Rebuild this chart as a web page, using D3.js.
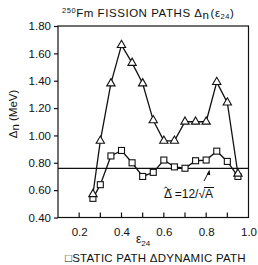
<!DOCTYPE html>
<html lang="en">
<head>
<meta charset="utf-8">
<style>
  body { margin:0; background:white; }
  svg { font-family: 'Liberation Sans', 'DejaVu Sans', sans-serif; }
  .axis text { font-size:11.5px; fill:#111; }
</style>
</head>
<body>
<div id="canvas"></div>
<script src="https://cdnjs.cloudflare.com/ajax/libs/d3/7.8.5/d3.min.js"></script>
<script>
// deformation values (epsilon_24) along the path
var eps = [0.265, 0.30, 0.35, 0.40, 0.45, 0.50, 0.55, 0.60, 0.65, 0.70, 0.75, 0.80, 0.85, 0.90, 0.95];
// pairing gap Delta_n (MeV)
var staticPath  = [0.54, 0.64, 0.85, 0.89, 0.80, 0.70, 0.73, 0.82, 0.77, 0.76, 0.815, 0.82, 0.885, 0.81, 0.70];
var dynamicPath = [0.57, 0.96, 1.38, 1.66, 1.53, 1.38, 1.11, 0.96, 0.96, 1.10, 1.10, 1.10, 1.39, 1.24, 0.72];
var yTicks = [0.40, 0.60, 0.80, 1.00, 1.20, 1.40, 1.60, 1.80];
var xLabels = [0.2, 0.4, 0.6, 0.8, 1.0];
var xMinor = [0.2, 0.3, 0.4, 0.5, 0.6, 0.7, 0.8, 0.9];
var deltaTilde = 12 / Math.sqrt(250);

var W = 258, H = 265;
var x = d3.scaleLinear().domain([0.1, 1.0]).range([58, 248.5]);
var y = d3.scaleLinear().domain([0.40, 1.80]).range([217.5, 26]);

var svg = d3.select("#canvas").append("svg")
    .attr("width", W).attr("height", H);

// frame
svg.append("rect")
    .attr("x", x(0.1)).attr("y", y(1.80))
    .attr("width", x(1.0) - x(0.1)).attr("height", y(0.40) - y(1.80))
    .attr("fill", "none").attr("stroke", "#111").attr("stroke-width", 1.2);

// y axis (outward ticks)
var yAxis = svg.append("g").attr("class", "axis")
    .attr("transform", "translate(" + x(0.1) + ",0)")
    .call(d3.axisLeft(y).tickValues(yTicks).tickFormat(d3.format(".2f")).tickSize(4).tickPadding(3));
yAxis.select(".domain").remove();
yAxis.selectAll("line").attr("stroke", "#111").attr("stroke-width", 1.2);

// x axis (inward ticks)
var xAxis = svg.append("g").attr("class", "axis")
    .attr("transform", "translate(0," + y(0.40) + ")")
    .call(d3.axisBottom(x).tickValues(xLabels).tickFormat(d3.format(".1f")).tickSize(0).tickPadding(10));
xAxis.select(".domain").remove();
svg.append("g").selectAll("line").data(xMinor).enter().append("line")
    .attr("x1", function(d) { return x(d); }).attr("x2", function(d) { return x(d); })
    .attr("y1", y(0.40)).attr("y2", y(0.40) - 5)
    .attr("stroke", "#111").attr("stroke-width", 1.2);

// reference line Delta~ = 12/sqrt(A)
svg.append("line")
    .attr("x1", x(0.1)).attr("x2", x(1.0))
    .attr("y1", y(deltaTilde)).attr("y2", y(deltaTilde))
    .attr("stroke", "#111").attr("stroke-width", 1.2);

// lines
var line = d3.line().x(function(d) { return x(d[0]); }).y(function(d) { return y(d[1]); });
var sData = eps.map(function(e, i) { return [e, staticPath[i]]; });
var dData = eps.map(function(e, i) { return [e, dynamicPath[i]]; });

svg.append("path").datum(dData).attr("d", line)
    .attr("fill", "none").attr("stroke", "#111").attr("stroke-width", 1.3);
svg.append("path").datum(sData).attr("d", line)
    .attr("fill", "none").attr("stroke", "#111").attr("stroke-width", 1.3);

// markers
svg.selectAll("rect.sq").data(sData).enter().append("rect")
    .attr("class", "sq")
    .attr("x", function(d) { return x(d[0]) - 3; })
    .attr("y", function(d) { return y(d[1]) - 3; })
    .attr("width", 6).attr("height", 6)
    .attr("fill", "white").attr("stroke", "#111").attr("stroke-width", 1.1);

var tri = d3.symbol().type(d3.symbolTriangle).size(30);
svg.selectAll("path.tri").data(dData).enter().append("path")
    .attr("class", "tri")
    .attr("d", tri)
    .attr("transform", function(d) { return "translate(" + x(d[0]) + "," + y(d[1]) + ")"; })
    .attr("fill", "white").attr("stroke", "#111").attr("stroke-width", 1.1);

// title
var title = svg.append("text").attr("x", 62).attr("y", 17)
    .style("font-size", "11.5px").style("letter-spacing", "0.55px").attr("fill", "#111");
title.append("tspan").text("250").style("font-size", "7.5px").attr("dy", -4);
title.append("tspan").text("Fm FISSION PATHS \u0394").attr("dy", 4);
title.append("tspan").text("n").attr("dy", 2);
title.append("tspan").text("(\u03b5").attr("dy", -2).attr("dx", 1);
title.append("tspan").text("24").style("font-size", "7.5px").attr("dy", 2);
title.append("tspan").text(")").attr("dy", -2);

// y label
var yl = svg.append("text")
    .attr("transform", "translate(17,114) rotate(-90)")
    .attr("text-anchor", "middle")
    .style("font-size", "11.5px").attr("fill", "#111");
yl.append("tspan").text("\u0394");
yl.append("tspan").text("n").attr("dy", 2);
yl.append("tspan").text(" (MeV)").attr("dy", -2);

// x label
var xl = svg.append("text").attr("x", 136).attr("y", 243)
    .style("font-size", "12px").attr("fill", "#111");
xl.append("tspan").text("\u03b5");
xl.append("tspan").text("24").style("font-size", "8px").attr("dy", 3);

// annotation
var annX = 164, annY = 198;
var ann = svg.append("text").attr("x", annX).attr("y", annY)
    .style("font-size", "12px").attr("fill", "#111");
var dSpan = ann.append("tspan").text("\u0394");
ann.append("tspan").text(" =12/\u221a");
var aSpan = ann.append("tspan").text("A");
var dLen = dSpan.node().getComputedTextLength();
// tilde accent over the Delta
var tc = annX + dLen / 2;
svg.append("path")
    .attr("d", "M" + (tc - 3.5) + ",188.5 c1,-1.8 2.2,-1.8 3.5,0 s2.5,1.8 3.5,0")
    .attr("fill", "none").attr("stroke", "#111").attr("stroke-width", 1);
var annBox = ann.node().getBBox();
var aLen = aSpan.node().getComputedTextLength();
var aX = annBox.x + annBox.width - aLen;
svg.append("line")
    .attr("x1", aX - 1).attr("x2", aX + aLen + 1)
    .attr("y1", 187.5).attr("y2", 187.5)
    .attr("stroke", "#111").attr("stroke-width", 1);

// arrow
svg.append("line")
    .attr("x1", 204).attr("y1", 181).attr("x2", 209).attr("y2", y(deltaTilde) + 3)
    .attr("stroke", "#111").attr("stroke-width", 1);
svg.append("path")
    .attr("d", "M" + 209.5 + "," + (y(deltaTilde) + 1) + " l-2.8,5 l3.6,0.8 z")
    .attr("fill", "#111");

// legend
var lg = svg.append("text").attr("x", 65).attr("y", 262)
    .style("font-size", "11.5px").style("letter-spacing", "0.25px").attr("fill", "#111");
lg.append("tspan").text("\u25a1STATIC PATH  \u0394DYNAMIC PATH");
</script>
</body>
</html>
